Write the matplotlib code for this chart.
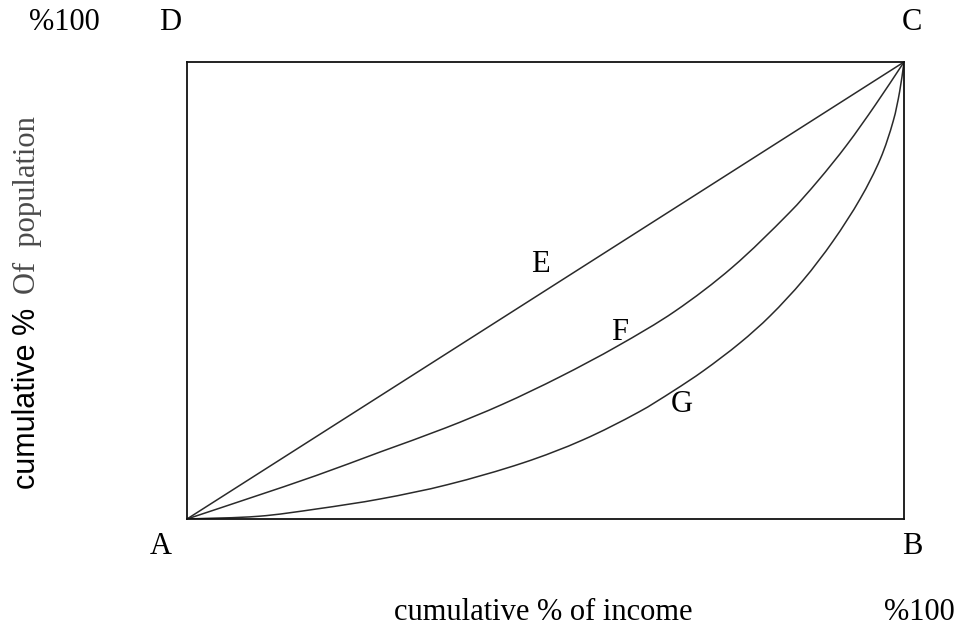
import matplotlib
matplotlib.use("Agg")
from matplotlib import pyplot as plt
from matplotlib.path import Path
from matplotlib.patches import PathPatch
import numpy as np

# cumulative shares (percent) for the equality line and the two Lorenz curves
equal_x = [0, 100]
equal_y = [0, 100]

curve_f_x = [0, 9, 18, 27, 36, 44, 52, 60, 68, 76, 84, 88, 92, 96, 100]
curve_f_y = [0, 4.7, 9.5, 14.7, 19.9, 25.1, 31.1, 37.8, 45.4, 55.0, 67.0, 74.0, 81.8, 90.6, 100]

curve_g_x = [0, 10, 18.1, 27, 36.3, 46.9, 55.2, 63, 67.8, 72, 77.1, 81.3, 85.9, 90.1, 93.9, 96.7, 98.5, 99.4, 100]
curve_g_y = [0, 0.6, 2.2, 4.4, 7.5, 12.3, 17.3, 23.4, 28.0, 32.4, 38.5, 44.4, 52.2, 60.8, 70.1, 78.8, 87.1, 93.6, 100]

corner_labels = ["A", "B", "C", "D"]
curve_labels = ["E", "F", "G"]

W, H = 958, 633
L, R, T, B = 187, 904, 62, 519


def to_data(px, py):
    # pixel position on the canvas -> data units of the square plot
    return (px - L) / (R - L) * 100, (B - py) / (B - T) * 100


def smooth_path(xs, ys):
    # Catmull-Rom through the points, written out as cubic Bezier segments
    p = np.column_stack([xs, ys]).astype(float)
    n = len(p)
    verts = [p[0]]
    codes = [Path.MOVETO]
    for i in range(n - 1):
        a = p[max(i - 1, 0)]
        b, c = p[i], p[i + 1]
        d = p[min(i + 2, n - 1)]
        seg = np.linalg.norm(c - b)
        t1 = (c - a) / (np.linalg.norm(c - b) + np.linalg.norm(b - a) if i > 0 else seg)
        t2 = (d - b) / (np.linalg.norm(d - c) + seg if i < n - 2 else seg)
        verts += [b + t1 * seg / 3, c - t2 * seg / 3, c]
        codes += [Path.CURVE4] * 3
    return Path(verts, codes)


fig = plt.figure(figsize=(W / 100, H / 100), dpi=100)
ax = fig.add_axes([L / W, (H - B) / H, (R - L) / W, (B - T) / H])
ax.set_xlim(0, 100)
ax.set_ylim(0, 100)
ax.set_xticks([])
ax.set_yticks([])
for s in ax.spines.values():
    s.set_linewidth(1.3)
    s.set_color("#111111")

line_kw = dict(color="#2a2a2a", linewidth=1.1)
ax.plot(equal_x, equal_y, solid_capstyle="round", **line_kw)
ax.add_patch(PathPatch(smooth_path(curve_f_x, curve_f_y), fill=False, **line_kw))
ax.add_patch(PathPatch(smooth_path(curve_g_x, curve_g_y), fill=False, **line_kw))

serif = ["Liberation Serif", "DejaVu Serif"]
sans = ["Liberation Sans", "DejaVu Sans"]
fs = 22

def label(px, py, s, **kw):
    x, y = to_data(px, py)
    ax.text(x, y, s, ha="center", va="center", clip_on=False,
            family=kw.pop("family", serif), fontsize=kw.pop("fontsize", fs), **kw)

# corners A B C D
for (px, py), s in zip([(161, 546), (912, 546), (912, 22), (170, 22)], corner_labels):
    label(px, py, s)

# curve names
for (px, py), s in zip([(540, 264), (620, 333), (682, 404)], curve_labels):
    label(px, py, s)

label(64, 22, "%100")
label(919, 612, "%100")
label(543, 612, "cumulative % of income")

label(27, 398, "cumulative %", family=sans, rotation=90)
label(27, 205, "Of  population", rotation=90, color="#4a4a4a")

fig.savefig("out.png", dpi=100, facecolor="white")
